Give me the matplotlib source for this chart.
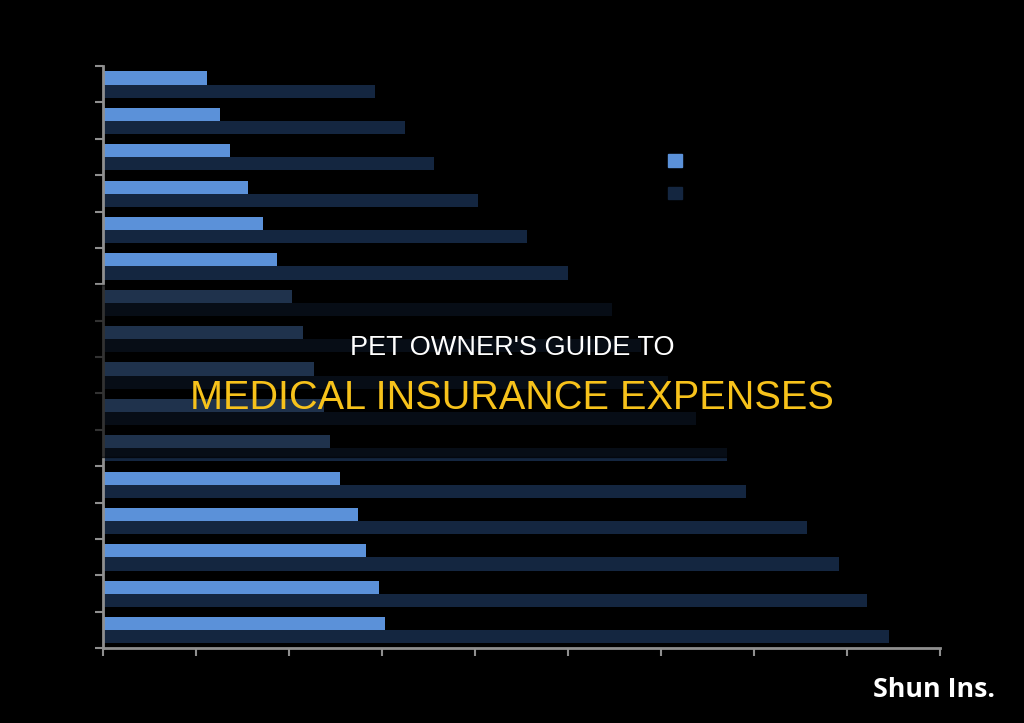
import matplotlib.pyplot as plt
import matplotlib.patches as mpatches
import numpy as np

# values (axis units, ticks every 100, no labels shown)
categories = ["c1", "c2", "c3", "c4", "c5", "c6", "c7", "c8",
              "c9", "c10", "c11", "c12", "c13", "c14", "c15", "c16"]
series_a = [112, 126, 137, 156, 172, 187, 203, 215,
            227, 238, 244, 255, 274, 283, 297, 303]
series_b = [292, 325, 356, 403, 456, 500, 547, 578,
            608, 638, 671, 691, 757, 791, 822, 845]
x_ticks = [0, 100, 200, 300, 400, 500, 600, 700, 800, 900]

light_blue = "#5b91d9"
navy = "#142640"
spine_gray = "#8f8f8f"

fig = plt.figure(figsize=(10.24, 7.23), dpi=100)
fig.patch.set_facecolor("black")
ax = fig.add_axes([103 / 1024, 1 - 648 / 723, 837 / 1024, 582 / 723])
ax.set_facecolor("black")

y = np.arange(len(categories))
bar_h = 0.36
ax.barh(y - 0.17, series_a, height=bar_h, color=light_blue, linewidth=0, label="a")
ax.barh(y + 0.19, series_b, height=bar_h, color=navy, linewidth=0, label="b")

ax.set_xlim(0, 900)
ax.set_ylim(len(categories) - 0.5, -0.5)
ax.set_xticks(x_ticks)
ax.set_xticklabels([])
ax.set_yticks(np.arange(len(categories) + 1) - 0.5)
ax.set_yticklabels([])
ax.tick_params(axis="both", colors=spine_gray, length=6, width=1.5, direction="out")

for side in ["top", "right"]:
    ax.spines[side].set_visible(False)
for side in ["left", "bottom"]:
    ax.spines[side].set_color(spine_gray)
    ax.spines[side].set_linewidth(2)

# legend squares (labels are not readable in the reference)
handles = [mpatches.Patch(color=light_blue), mpatches.Patch(color=navy)]
ax.legend(handles, ["", ""], loc="upper left", bbox_to_anchor=(0.66, 0.87),
          frameon=False, handlelength=1.0, handleheight=1.0, labelspacing=1.35)

# dark band behind the title
band = mpatches.Rectangle((0, 1 - 457 / 723), 1, (457 - 285) / 723,
                          transform=fig.transFigure, color="black", alpha=0.65,
                          zorder=5)
fig.patches.append(band)

fig.text(0.5, 1 - 348 / 723, "PET OWNER'S GUIDE TO", color="white", fontsize=19.5,
         family="Liberation Sans", ha="center", va="center", zorder=10)
fig.text(0.5, 1 - 398 / 723, "MEDICAL INSURANCE EXPENSES", color="#f7c21b", fontsize=28.5,
         family="Liberation Sans", ha="center", va="center", zorder=10)

fig.text(0.972, 1 - 690 / 723, "Shun Ins.", color="white", fontsize=19.3,
         family="Open Sans", fontweight="bold", ha="right", va="center")

fig.savefig("out.png", dpi=100, facecolor="black")
